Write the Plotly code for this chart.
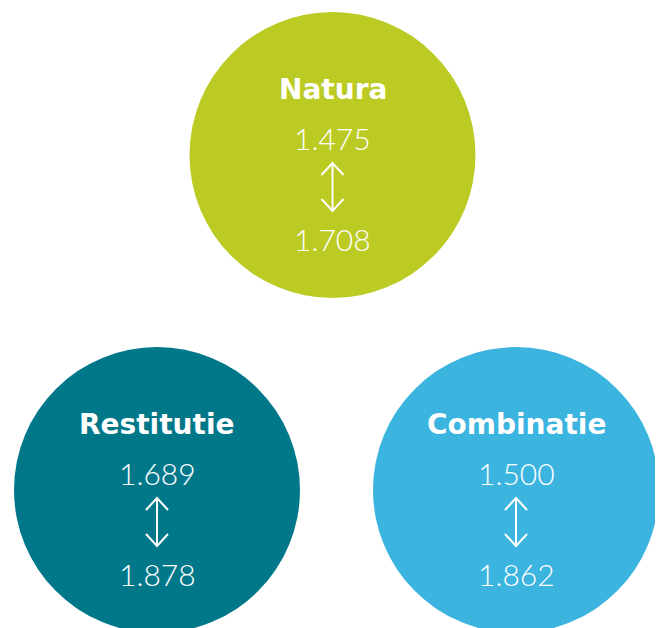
import plotly.graph_objects as go

# Data
labels = ["Natura", "Restitutie", "Combinatie"]
low_values = ["1.475", "1.689", "1.500"]
high_values = ["1.708", "1.878", "1.862"]

# Layout (page pixel positions)
centers_x = [332.5, 157, 516]
centers_y = [155, 490, 490]
radius = 143
colors = ["#BBCB24", "#00788A", "#3BB4DF"]

fig = go.Figure()
shapes = []
for cx, cy, col in zip(centers_x, centers_y, colors):
    shapes.append(dict(type="circle", xref="x", yref="y",
                       x0=cx - radius, x1=cx + radius, y0=cy - radius, y1=cy + radius,
                       fillcolor=col, line=dict(width=0), layer="below"))

annotations = []
for lab, lo, hi, cx, cy in zip(labels, low_values, high_values, centers_x, centers_y):
    annotations.append(dict(x=cx, y=cy - 66, text="<b>" + lab + "</b>", showarrow=False,
                            font=dict(family="DejaVu Sans", size=28, color="white"),
                            xanchor="center", yanchor="middle"))
    annotations.append(dict(x=cx, y=cy - 17, text=lo, showarrow=False,
                            font=dict(family="Lato", size=30, color="white", weight=300),
                            xanchor="center", yanchor="middle"))
    annotations.append(dict(x=cx, y=cy + 84, text=hi, showarrow=False,
                            font=dict(family="Lato", size=30, color="white", weight=300),
                            xanchor="center", yanchor="middle"))
    # double-headed arrow
    top = cy + 8
    bot = cy + 56
    hw = 11
    hh = 12
    fig.add_trace(go.Scatter(
        x=[cx, cx, None, cx - hw, cx, cx + hw, None, cx - hw, cx, cx + hw],
        y=[top, bot, None, top + hh, top, top + hh, None, bot - hh, bot, bot - hh],
        mode="lines", line=dict(color="white", width=2), hoverinfo="skip", showlegend=False))

# page body has an 8px margin; map page pixels directly to data coords
fig.update_layout(
    width=655, height=620, margin=dict(l=0, r=0, t=0, b=0),
    paper_bgcolor="white", plot_bgcolor="white",
    xaxis=dict(range=[8, 663], visible=False, fixedrange=True),
    yaxis=dict(range=[628, 8], visible=False, fixedrange=True),
    shapes=shapes, annotations=annotations, showlegend=False,
)
fig.write_html("out.html")
